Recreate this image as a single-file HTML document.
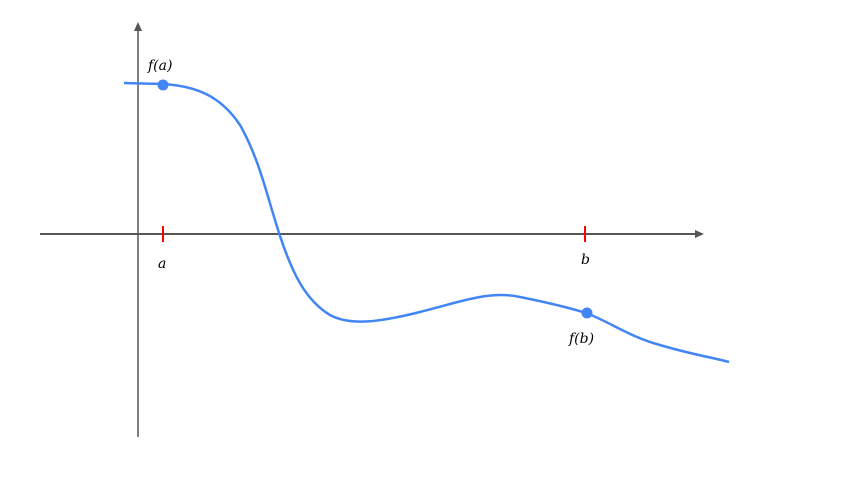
<!DOCTYPE html>
<html><head><style>
html,body{margin:0;padding:0;background:#fff;width:853px;height:480px;overflow:hidden}
text{font-family:"DejaVu Serif",serif;font-style:italic;font-size:14px;fill:#000}
</style></head><body>
<svg width="853" height="480" viewBox="0 0 853 480">
<line x1="40" y1="234" x2="698" y2="234" stroke="#555" stroke-width="2"/>
<polygon points="704,234 695,230 695,238" fill="#555"/>
<line x1="138" y1="437" x2="138" y2="30" stroke="#555" stroke-width="1.5"/>
<polygon points="138,22 134,31 142,31" fill="#555"/>
<line x1="163" y1="226" x2="163" y2="242" stroke="#f00" stroke-width="2"/>
<line x1="585" y1="226" x2="585" y2="242" stroke="#f00" stroke-width="2"/>
<path d="M124,83 L163,84 C195,86 220,95 240,125 C260,160 268,200 280,236 C292,272 305,300 330,315 C350,326 380,322 420,312 C460,302 490,290 520,297 C550,303 570,308 586,313 C610,322 630,337 660,345 C690,354 710,357 729,362" fill="none" stroke="#4285f4" stroke-width="2.5"/>
<circle cx="163" cy="85" r="5.5" fill="#4285f4"/>
<circle cx="587" cy="313" r="5.5" fill="#4285f4"/>
<text x="148" y="70">f(a)</text>
<text x="158" y="268">a</text>
<text x="581" y="264">b</text>
<text x="569" y="343">f(b)</text>
</svg>
</body></html>
